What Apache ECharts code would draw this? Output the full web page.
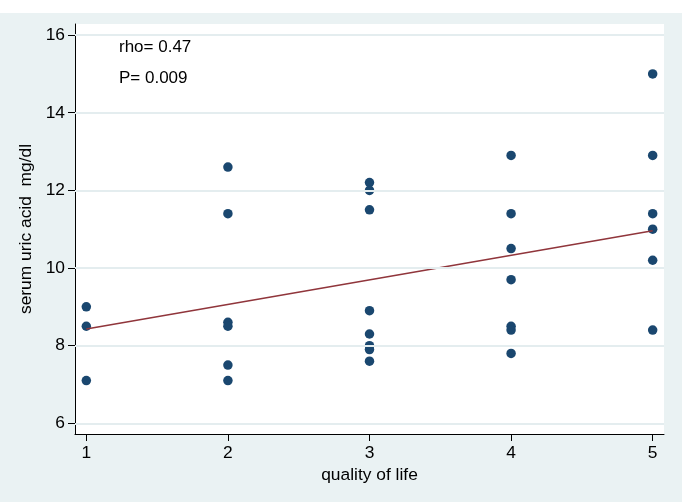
<!DOCTYPE html>
<html>
<head>
<meta charset="utf-8">
<script src="https://cdn.jsdelivr.net/npm/echarts@6/dist/echarts.min.js"></script>
<style>
html,body{margin:0;padding:0;background:#ffffff;}
#c{position:absolute;left:0;top:13px;width:682px;height:489px;}
</style>
</head>
<body>
<div id="c"></div>
<script>
// ---- data ----
const xTicks = [1, 2, 3, 4, 5];
const yTicks = [6, 8, 10, 12, 14, 16];
const qualityOfLife = [1,1,1, 2,2,2,2,2,2, 3,3,3,3,3,3,3,3, 4,4,4,4,4,4,4, 5,5,5,5,5,5];
const uricAcid = [9.0,8.5,7.1, 12.6,11.4,8.6,8.5,7.5,7.1, 12.2,12.0,11.5,8.9,8.3,8.0,7.9,7.6, 12.9,11.4,10.5,9.7,8.5,8.4,7.8, 15.0,12.9,11.4,11.0,10.2,8.4];
const fitX = [1, 5];
const fitY = [8.43, 10.96];
const annotations = ['rho= 0.47', 'P= 0.009'];

const FONT = '"Liberation Sans", Arial, sans-serif';
const chart = echarts.init(document.getElementById('c'), null, {renderer: 'canvas'});
const points = qualityOfLife.map((q, i) => [q, uricAcid[i]]);
const fitLine = fitX.map((x, i) => [x, fitY[i]]);

chart.setOption({
  backgroundColor: '#EAF2F3',
  animation: false,
  grid: {left: 75, right: 18, top: 11, bottom: 68, show: true, backgroundColor: '#ffffff', borderWidth: 0},
  xAxis: {
    type: 'value', min: 0.92, max: 5.08,
    axisLine: {show: true, onZero: false, lineStyle: {color: '#000', width: 1}},
    axisTick: {show: true, customValues: xTicks, length: 7, lineStyle: {color: '#000', width: 1}},
    axisLabel: {customValues: xTicks, margin: 11, fontSize: 17.4, color: '#000', fontFamily: FONT},
    splitLine: {show: false},
    name: 'quality of life', nameLocation: 'middle', nameGap: 27,
    nameTextStyle: {fontSize: 17.4, color: '#000', fontFamily: FONT}
  },
  yAxis: {
    type: 'value', min: 5.724, max: 16.286,
    axisLine: {show: true, onZero: false, lineStyle: {color: '#000', width: 1}},
    axisTick: {show: true, customValues: yTicks, length: 7, lineStyle: {color: '#000', width: 1}},
    axisLabel: {customValues: yTicks, margin: 10, fontSize: 17.4, color: '#000', fontFamily: FONT},
    splitLine: {show: false},
    name: 'serum uric acid  mg/dl', nameLocation: 'middle', nameGap: 31,
    nameTextStyle: {fontSize: 17.4, color: '#000', fontFamily: FONT}
  },
  graphic: [
    {type: 'text', left: 119, top: 26, style: {text: annotations[0], fontSize: 17, fontFamily: FONT, fill: '#000'}},
    {type: 'text', left: 119, top: 57, style: {text: annotations[1], fontSize: 17, fontFamily: FONT, fill: '#000'}}
  ],
  series: [
    {
      type: 'line', data: [[xTicks[0], yTicks[0]]], z: 1, silent: true, symbol: 'none',
      lineStyle: {opacity: 0},
      markLine: {
        silent: true, symbol: ['none', 'none'], label: {show: false}, animation: false,
        lineStyle: {color: '#E4EDEF', width: 2, type: 'solid'},
        data: yTicks.map(v => ({yAxis: v}))
      }
    },
    {
      type: 'scatter', data: points, z: 3, symbol: 'circle', symbolSize: 9.5,
      itemStyle: {color: '#1A476F', opacity: 1}
    },
    {
      type: 'line', data: fitLine, z: 4, symbol: 'none',
      lineStyle: {color: '#90353B', width: 1.6}
    }
  ]
});
</script>
</body>
</html>
